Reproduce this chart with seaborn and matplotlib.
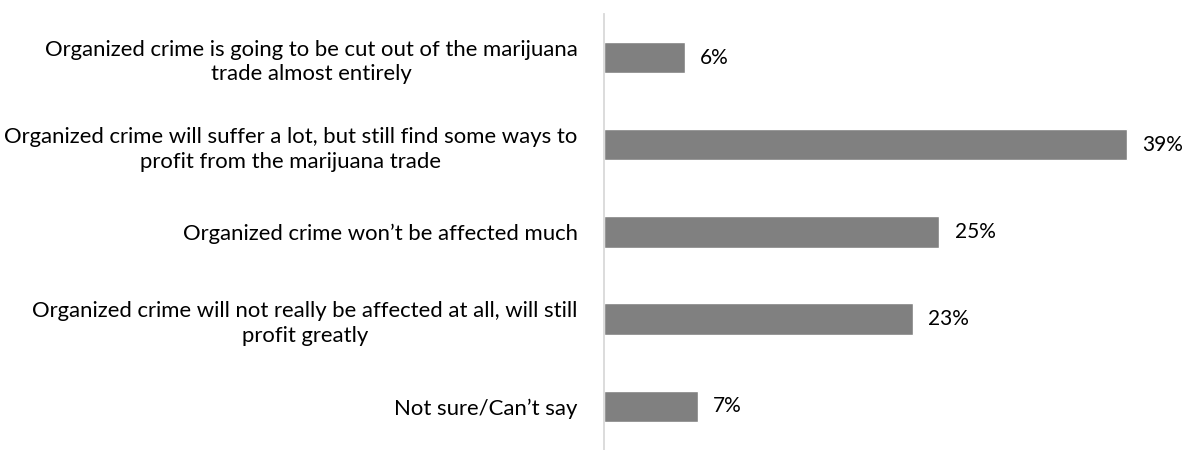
import pandas as pd
import seaborn as sns
import matplotlib.pyplot as plt

# Survey answers and shares (%)
answers = [
    "Organized crime is going to be cut out of the marijuana\ntrade almost entirely",
    "Organized crime will suffer a lot, but still find some ways to\nprofit from the marijuana trade",
    "Organized crime won\u2019t be affected much",
    "Organized crime will not really be affected at all, will still\nprofit greatly",
    "Not sure/Can\u2019t say",
]
shares = [6, 39, 25, 23, 7]
value_labels = ["6%", "39%", "25%", "23%", "7%"]

df = pd.DataFrame({"answer": answers, "share": shares})

sns.set_style("white")
plt.rcParams['font.family'] = ['Lato', 'DejaVu Sans']

fig = plt.figure(figsize=(11.85, 4.5), dpi=100)
ax = fig.add_axes([0.5097, 0.0, 0.4767, 0.969])

sns.barplot(data=df, x="share", y="answer", color="#808080", saturation=1,
            width=0.36, ax=ax)

ax.set_xlim(0, 42.1)
ax.set_ylim(4.5, -0.5)
ax.set_xlabel("")
ax.set_ylabel("")
ax.set_xticks([])

for s in ["top", "right", "bottom"]:
    ax.spines[s].set_visible(False)
ax.spines["left"].set_color("#d9d9d9")
ax.spines["left"].set_linewidth(1.3)

ax.tick_params(axis="y", length=0, pad=19, labelsize=15.9, labelcolor="#000000")
for lbl in ax.get_yticklabels():
    lbl.set_multialignment("center")
    lbl.set_linespacing(1.3)

for i, (v, t) in enumerate(zip(shares, value_labels)):
    ax.annotate(t, xy=(v, i), xytext=(11, 0), textcoords="offset points",
                va="center", ha="left", fontsize=15, color="#000000")

fig.savefig("out.png", dpi=100)
